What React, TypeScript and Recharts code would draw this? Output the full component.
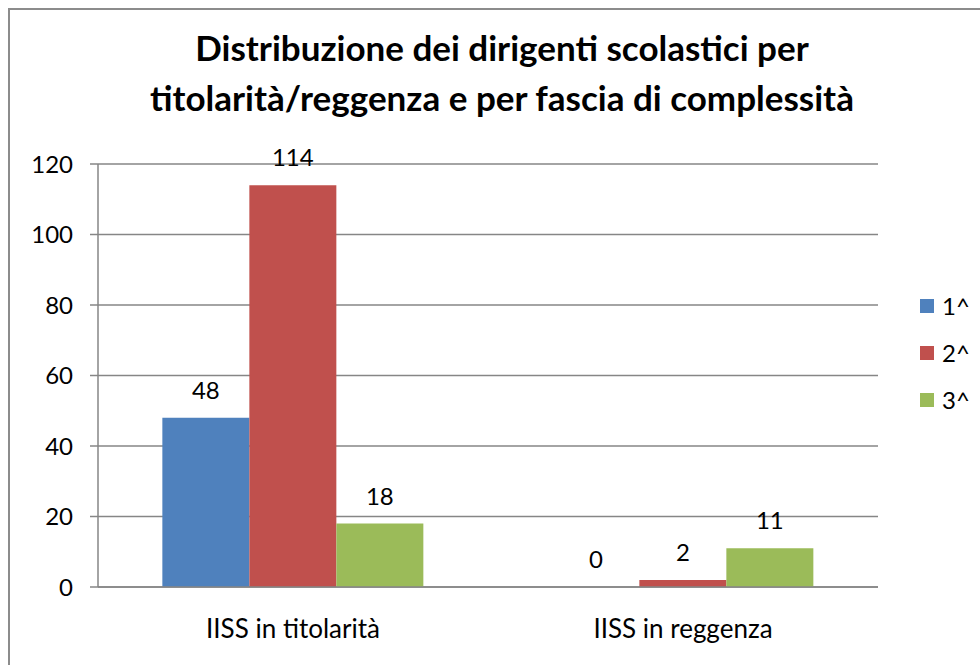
import { BarChart, Bar, XAxis, YAxis, CartesianGrid } from 'recharts';

const categories = ['IISS in titolarità', 'IISS in reggenza'];
const fascia1 = [48, 0];
const fascia2 = [114, 2];
const fascia3 = [18, 11];
const yTicks = [0, 20, 40, 60, 80, 100, 120];
const seriesNames = ['1^', '2^', '3^'];
const colors = ['#4F81BD', '#C0504D', '#9BBB59'];

const data = categories.map((name, i) => ({
  name,
  s1: fascia1[i],
  s2: fascia2[i],
  s3: fascia3[i],
}));

const font = 'Lato, "Open Sans", sans-serif';

// custom label so a zero-height bar still gets its "0"
const renderLabel = (props: any) => {
  const { x, y, width, value } = props;
  return (
    <text
      x={Number(x) + Number(width) / 2}
      y={Number(y) - 19}
      textAnchor="middle"
      fill="#000"
      fontSize={24}
      fontFamily={font}
    >
      {value}
    </text>
  );
};

const LegendBox = () => (
  <div style={{ position: 'absolute', left: 920, top: 282, fontFamily: font, fontSize: 24 }}>
    {seriesNames.map((n, i) => (
      <div key={n} style={{ display: 'flex', alignItems: 'center', height: 47 }}>
        <span style={{ width: 14, height: 14, background: colors[i], display: 'inline-block', marginRight: 8 }} />
        <span>{n}</span>
      </div>
    ))}
  </div>
);

export default function App() {
  return (
    <div style={{ position: 'fixed', left: 0, top: 0, width: 980, height: 665, overflow: 'hidden', background: '#fff' }}>
      <div
        style={{
          position: 'absolute',
          left: 8,
          top: 8,
          width: 1000,
          height: 700,
          border: '2px solid #8c8c8c',
        }}
      />
      <div
        style={{
          position: 'absolute',
          left: 0,
          top: 22,
          width: 1004,
          textAlign: 'center',
          fontFamily: font,
          fontWeight: 'bold',
          fontSize: 35,
          lineHeight: '50px',
          color: '#000',
        }}
      >
        Distribuzione dei dirigenti scolastici per
        <br />
        titolarità/reggenza e per fascia di complessità
      </div>
      <div style={{ position: 'absolute', left: 0, top: 0 }}>
        <BarChart
          width={980}
          height={665}
          data={data}
          margin={{ top: 164, right: 102, bottom: 28, left: 38 }}
          barCategoryGap="16.5%"
          barGap={0}
        >
          <CartesianGrid vertical={false} stroke="#868686" strokeWidth={1.5} />
          <XAxis
            xAxisId="edges"
            type="number"
            domain={[0, 2]}
            ticks={[0, 1, 2]}
            tick={false}
            tickSize={8}
            axisLine={false}
            tickLine={{ stroke: '#868686', strokeWidth: 1.5 }}
            height={0}
          />
          <XAxis
            xAxisId="cat"
            dataKey="name"
            tickLine={false}
            tickSize={0}
            tickMargin={33}
            height={50}
            axisLine={{ stroke: '#868686', strokeWidth: 1.5 }}
            tick={{ fill: '#000', fontSize: 26, fontFamily: font }}
          />
          <YAxis
            domain={[0, 120]}
            ticks={yTicks}
            width={60}
            tickSize={8}
            tickMargin={17}
            axisLine={{ stroke: '#868686', strokeWidth: 1.5 }}
            tickLine={{ stroke: '#868686', strokeWidth: 1.5 }}
            tick={{ fill: '#000', fontSize: 24, fontFamily: font }}
          />
          {['s1', 's2', 's3'].map((k, i) => (
            <Bar
              key={k}
              dataKey={k}
              xAxisId="cat"
              name={seriesNames[i]}
              fill={colors[i]}
              minPointSize={0.01}
              isAnimationActive={false}
              label={renderLabel}
            />
          ))}
        </BarChart>
      </div>
      <LegendBox />
    </div>
  );
}
